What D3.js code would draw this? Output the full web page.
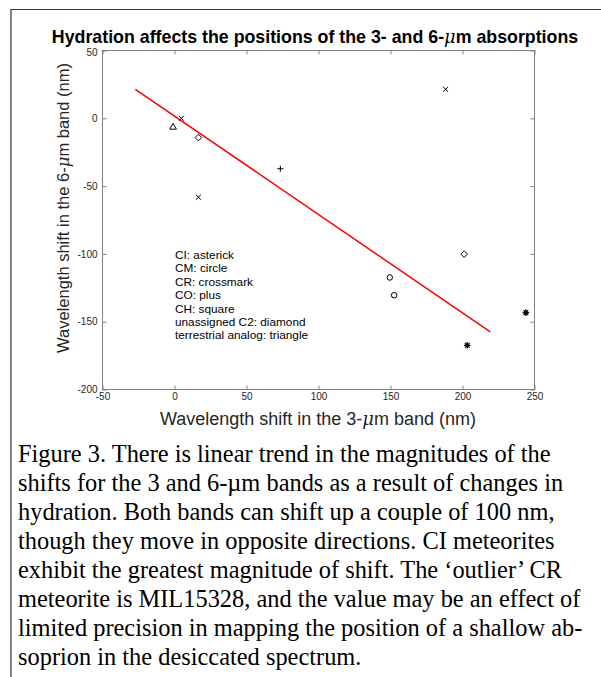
<!DOCTYPE html>
<html>
<head>
<meta charset="utf-8">
<script src="https://cdn.jsdelivr.net/npm/d3@7"></script>
<style>
  body { margin: 0; background: #fff; }
</style>
</head>
<body>
<svg id="fig" width="601" height="677" font-family="'Liberation Sans', Arial, sans-serif"></svg>
<script>
'use strict'

// points, [3-um shift, 6-um shift] in nm
const ciPoints = [[203.3, -167.4], [244, -143.3]]           // asterisk
const cmPoints = [[149.5, -117.4], [152.5, -130.5]]         // circle
const crPoints = [[4.8, 0], [16.6, -58.2], [188.3, 21.4]]   // crossmark
const coPoints = [[73.5, -37.2]]                            // plus
const c2Points = [[16.6, -14.2], [201.2, -100.2]]           // diamond
const analogPoints = [[-1, -6.6]]                           // triangle

// red trend line: y = slope * x + intercept, drawn over trendRange
const trendSlope = -0.726
const trendIntercept = 1.65
const trendRange = [-27.2, 219.3]

const xTicks = [-50, 0, 50, 100, 150, 200, 250]
const yTicks = [-200, -150, -100, -50, 0, 50]

const legendLines = [
	'CI: asterick',
	'CM: circle',
	'CR: crossmark',
	'CO: plus',
	'CH: square',
	'unassigned C2: diamond',
	'terrestrial analog: triangle'
]

const captionLines = [
	'Figure 3. There is linear trend in the magnitudes of the',
	'shifts for the 3 and 6-\u00b5m bands as a result of changes in',
	'hydration. Both bands can shift up a couple of 100 nm,',
	'though they move in opposite directions. CI meteorites',
	'exhibit the greatest magnitude of shift. The \u2018outlier\u2019 CR',
	'meteorite is MIL15328, and the value may be an effect of',
	'limited precision in mapping the position of a shallow ab-',
	'soprion in the desiccated spectrum.'
]

// 8 armed matlab style asterisk
const asterisk8 = {
	draw (ctx, size) {
		const r = Math.sqrt(size) / 2
		const d = r * Math.SQRT1_2
		ctx.moveTo(0, -r); ctx.lineTo(0, r)
		ctx.moveTo(-r, 0); ctx.lineTo(r, 0)
		ctx.moveTo(-d, -d); ctx.lineTo(d, d)
		ctx.moveTo(-d, d); ctx.lineTo(d, -d)
	}
}

const svg = d3.select('#fig')

// frame (top and left edges only)
svg.append('path')
	.attr('d', 'M11,677V9.5H601')
	.attr('fill', 'none')
	.attr('stroke', '#333')
	.attr('stroke-width', 1.2)

const plot = {left: 102.5, right: 534.5, top: 50.5, bottom: 389.5}

const x = d3.scaleLinear().domain([-50, 250]).range([plot.left, plot.right])
const y = d3.scaleLinear().domain([-200, 50]).range([plot.bottom, plot.top])

// title
const title = svg.append('text')
	.attr('x', 315)
	.attr('y', 42.5)
	.attr('text-anchor', 'middle')
	.attr('font-size', 17.8)
	.attr('font-weight', 'bold')
	.attr('fill', '#000')
title.append('tspan').text('Hydration affects the positions of the 3- and 6-')
title.append('tspan').attr('font-style', 'italic').attr('font-family', 'DejaVu Serif').attr('font-weight', 'normal').text('\u03bc')
title.append('tspan').text('m absorptions')

// axes, matlab style ticks pointing inward
const axisColor = '#808080'
const tickLen = 4

const xAxis = svg.append('g')
	.attr('transform', 'translate(0,' + plot.bottom + ')')
	.call(d3.axisBottom(x).tickValues(xTicks).tickSizeInner(-tickLen).tickSizeOuter(0).tickPadding(4).tickFormat(d => String(d)))
const xTop = svg.append('g')
	.attr('transform', 'translate(0,' + plot.top + ')')
	.call(d3.axisTop(x).tickValues(xTicks).tickSizeInner(-tickLen).tickSizeOuter(0).tickFormat(''))
const yAxis = svg.append('g')
	.attr('transform', 'translate(' + plot.left + ',0)')
	.call(d3.axisLeft(y).tickValues(yTicks).tickSizeInner(-tickLen).tickSizeOuter(0).tickPadding(5).tickFormat(d => String(d)))
const yRight = svg.append('g')
	.attr('transform', 'translate(' + plot.right + ',0)')
	.call(d3.axisRight(y).tickValues(yTicks).tickSizeInner(-tickLen).tickSizeOuter(0).tickFormat(''))

;[xAxis, xTop, yAxis, yRight].forEach(g => {
	g.select('.domain').remove()
	g.selectAll('line').attr('stroke', axisColor)
	g.selectAll('text').attr('font-size', 10).attr('fill', '#262626')
		.attr('font-family', '"Liberation Sans", Arial, sans-serif')
})
// x labels sit a little lower so the corner labels don't collide
xAxis.selectAll('text').attr('dy', '0.6em')
// top y label is nudged down a bit, clear of the title
yAxis.selectAll('.tick text').filter(d => d === 50).attr('dy', '0.45em')

svg.append('rect')
	.attr('x', plot.left).attr('y', plot.top)
	.attr('width', plot.right - plot.left).attr('height', plot.bottom - plot.top)
	.attr('fill', 'none')
	.attr('stroke', axisColor)
	.attr('stroke-width', 1)

// axis labels
const xLabel = svg.append('text')
	.attr('x', 318)
	.attr('y', 425)
	.attr('text-anchor', 'middle')
	.attr('font-size', 18)
	.attr('fill', '#262626')
xLabel.append('tspan').text('Wavelength shift in the 3-')
xLabel.append('tspan').attr('font-style', 'italic').attr('font-family', 'DejaVu Serif').text('\u03bc')
xLabel.append('tspan').text('m band (nm)')

const yLabel = svg.append('text')
	.attr('transform', 'translate(69,208) rotate(-90)')
	.attr('text-anchor', 'middle')
	.attr('font-size', 16.5)
	.attr('fill', '#262626')
yLabel.append('tspan').text('Wavelength shift in the 6-')
yLabel.append('tspan').attr('font-style', 'italic').attr('font-family', 'DejaVu Serif').text('\u03bc')
yLabel.append('tspan').text('m band (nm)')

// trend line
svg.append('line')
	.attr('x1', x(trendRange[0])).attr('y1', y(trendSlope * trendRange[0] + trendIntercept))
	.attr('x2', x(trendRange[1])).attr('y2', y(trendSlope * trendRange[1] + trendIntercept))
	.attr('stroke', '#ff0000')
	.attr('stroke-width', 1.5)

// markers
const groups = [
	{pts: ciPoints, type: asterisk8, size: 44, sw: 1.3},
	{pts: cmPoints, type: d3.symbolCircle, size: 24, sw: 1},
	{pts: crPoints, type: d3.symbolTimes, size: 18, sw: 1},
	{pts: coPoints, type: d3.symbolPlus, size: 14, sw: 1},
	{pts: c2Points, type: d3.symbolDiamond2, size: 28, sw: 1},
	{pts: analogPoints, type: d3.symbolTriangle2, size: 32, sw: 1}
]
groups.forEach(gr => {
	svg.append('g').selectAll('path')
		.data(gr.pts)
		.enter().append('path')
		.attr('transform', d => 'translate(' + x(d[0]) + ',' + y(d[1]) + ')')
		.attr('d', d3.symbol().type(gr.type).size(gr.size))
		.attr('fill', 'none')
		.attr('stroke', '#000')
		.attr('stroke-width', gr.sw)
})

// in-plot legend text
svg.append('g').selectAll('text')
	.data(legendLines)
	.enter().append('text')
	.attr('x', 175)
	.attr('y', (d, i) => 259 + i * 13.4)
	.attr('font-size', 11.8)
	.attr('fill', '#000')
	.text(d => d)

// caption
svg.append('g').selectAll('text')
	.data(captionLines)
	.enter().append('text')
	.attr('x', 18)
	.attr('y', (d, i) => 462 + i * 29)
	.attr('font-family', '"Liberation Serif", "Times New Roman", serif')
	.attr('font-size', 24.4)
	.attr('fill', '#000')
	.text(d => d)
</script>
</body>
</html>
